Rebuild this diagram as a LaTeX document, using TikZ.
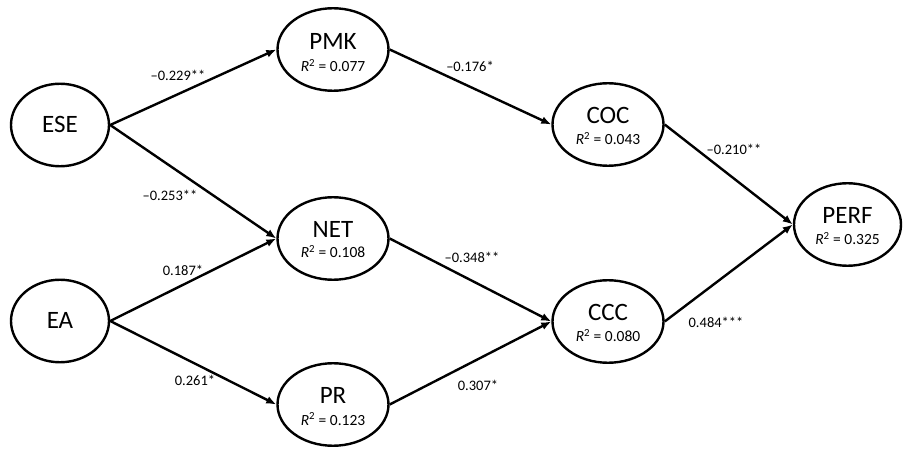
\documentclass[tikz,border=0pt]{standalone}
\usepackage{fontspec}
\setmainfont{Carlito}
\usetikzlibrary{shapes.geometric,arrows.meta,calc}
\tikzset{
  lv/.style={draw,ellipse,line width=2.4pt,inner sep=0pt,minimum height=82.5pt},
  lvs/.style={lv,minimum width=98pt},
  lvm/.style={lv,minimum width=111pt},
  lvp/.style={lv,minimum width=107pt},
  nm/.style={anchor=base,font=\fontsize{25}{25}\selectfont,inner sep=0pt},
  rs/.style={anchor=base,font=\fontsize{15.5}{15.5}\selectfont,inner sep=0pt},
  pl/.style={font=\fontsize{14.5}{14.5}\selectfont,inner sep=0pt},
  path/.style={line width=2.4pt,-{Latex[length=10pt,width=8pt]}}
}
\newcommand{\rsq}[1]{\textit{R}\textsuperscript{2} = #1}
\begin{document}
\begin{tikzpicture}[x=1pt,y=-1pt]
\useasboundingbox (0,0) rectangle (903,454);
% latent variables
\node[lvs] (ESE) at (60,125) {};
\node[lvs] (EA) at (60,321) {};
\node[lvm] (PMK) at (333,49.5) {};
\node[lvm] (NET) at (333,238.5) {};
\node[lvm] (PR) at (333,404.5) {};
\node[lvm] (COC) at (608,124.5) {};
\node[lvm] (CCC) at (608,321.5) {};
\node[lvp] (PERF) at (847.5,224.5) {};
% names
\node[nm] (tESE) at (60,133) {ESE};
\node[nm] (tEA) at (60,329) {EA};
\node[nm] (tPMK) at (333,49.5) {PMK};
\node[rs] (rPMK) at (333,72) {\rsq{0.077}};
\node[nm] (tNET) at (333,238) {NET};
\node[rs] (rNET) at (333,258) {\rsq{0.108}};
\node[nm] (tPR) at (333,404) {PR};
\node[rs] (rPR) at (333,425) {\rsq{0.123}};
\node[nm] (tCOC) at (608,124) {COC};
\node[rs] (rCOC) at (608,145) {\rsq{0.043}};
\node[nm] (tCCC) at (608,321) {CCC};
\node[rs] (rCCC) at (608,342) {\rsq{0.080}};
\node[nm] (tPERF) at (847.5,224) {PERF};
\node[rs] (rPERF) at (847.5,245) {\rsq{0.325}};
% paths
\draw[path] (ESE.east) -- (PMK.west);
\draw[path] (ESE.east) -- (NET.west);
\draw[path] (EA.east) -- (NET.west);
\draw[path] (EA.east) -- (PR.west);
\draw[path] (PMK.east) -- (COC.west);
\draw[path] (NET.east) -- (CCC.west);
\draw[path] (PR.east) -- (CCC.west);
\draw[path] (COC.east) -- (PERF.west);
\draw[path] (CCC.east) -- (PERF.west);
% coefficients
\node[pl] (c1) at (178,75) {–0.229**};
\node[pl] (c2) at (170,195) {–0.253**};
\node[pl] (c3) at (183,270) {0.187*};
\node[pl] (c4) at (195,380) {0.261*};
\node[pl] (c5) at (470,66) {–0.176*};
\node[pl] (c6) at (472,257) {–0.348**};
\node[pl] (c7) at (478,385) {0.307*};
\node[pl] (c8) at (734,149) {–0.210**};
\node[pl] (c9) at (716,322) {0.484***};
\end{tikzpicture}
\end{document}
